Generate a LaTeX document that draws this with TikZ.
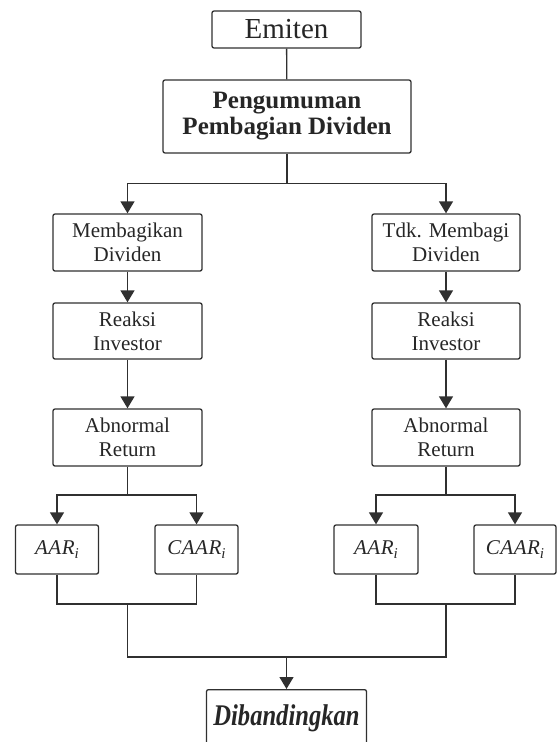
\documentclass[tikz,border=0pt]{standalone}
\usepackage{fontspec}
\setmainfont{Liberation Serif}
\usetikzlibrary{arrows.meta}
\definecolor{ln}{HTML}{303030}
\newcommand{\subi}{\raisebox{-4.5pt}{\fontsize{15}{15}\selectfont\textit{i}}}
\tikzset{
  box/.style={draw=ln, line width=1.3pt, rounded corners=2pt, align=center, inner sep=0pt, text=black!85},
  txt/.style={font=\fontsize{21}{24}\selectfont},
  conn/.style={draw=ln, line width=1.3pt},
  arr/.style={conn, -{Triangle[length=12pt,width=14pt]}}
}
\begin{document}
\begin{tikzpicture}[x=1pt,y=-1pt]
\useasboundingbox (0,0) rectangle (557,742);
\clip (0,0) rectangle (557,742);
\node[box, minimum width=149pt, minimum height=37pt, font=\fontsize{29}{32}\selectfont] (emit) at (286.5,29.5) {Emiten};
\node[box, minimum width=248pt, minimum height=73pt, font=\fontsize{25}{26}\selectfont\bfseries] (peng) at (287,116.5) {Pengumuman\\Pembagian Dividen};
\node[box, txt, minimum width=149pt, minimum height=57pt] (memb) at (127.5,242.5) {Membagikan\\Dividen};
\node[box, txt, minimum width=149pt, minimum height=56pt] (reaL) at (127.5,331) {Reaksi\\Investor};
\node[box, txt, minimum width=149pt, minimum height=57pt] (abnL) at (127.5,437.5) {Abnormal\\Return};
\node[box, txt, minimum width=148pt, minimum height=57pt] (tdk) at (446,242.5) {Tdk. Membagi\\Dividen};
\node[box, txt, minimum width=148pt, minimum height=56pt] (reaR) at (446,331) {Reaksi\\Investor};
\node[box, txt, minimum width=148pt, minimum height=57pt] (abnR) at (446,437.5) {Abnormal\\Return};
\node[box, txt, minimum width=83pt, minimum height=49pt] (aarL) at (57,549.5) {\textit{A\kern0.5pt A\kern0.5pt R}\subi};
\node[box, txt, minimum width=83pt, minimum height=49pt] (caarL) at (196.5,549.5) {\textit{C\kern0.5pt A\kern0.5pt A\kern0.5pt R}\subi};
\node[box, txt, minimum width=84pt, minimum height=49pt] (aarR) at (376,549.5) {\textit{A\kern0.5pt A\kern0.5pt R}\subi};
\node[box, txt, minimum width=82pt, minimum height=49pt] (caarR) at (515,549.5) {\textit{C\kern0.5pt A\kern0.5pt A\kern0.5pt R}\subi};
\node[box, minimum width=160pt, text height=36pt, text depth=30pt, anchor=north] (dib) at (286.5,689) {\scalebox{0.82}[1]{\fontsize{30}{32}\selectfont\bfseries\itshape Dibandingkan}};
\coordinate (split) at (287,183.5);
\coordinate (sL) at (127.5,495);
\coordinate (sR) at (446,495);
\coordinate (jL) at (127.5,604);
\coordinate (jR) at (446,604);
\coordinate (mid) at (286.5,657);
\draw[conn] (emit) -- (peng);
\draw[conn] (peng) -- (split);
\draw[arr] (split) -| (memb);
\draw[arr] (split) -| (tdk);
\draw[arr] (memb) -- (reaL);
\draw[arr] (reaL) -- (abnL);
\draw[arr] (tdk) -- (reaR);
\draw[arr] (reaR) -- (abnR);
\draw[conn] (abnL) -- (sL);
\draw[arr] (sL) -| (aarL);
\draw[arr] (sL) -| (caarL);
\draw[conn] (abnR) -- (sR);
\draw[arr] (sR) -| (aarR);
\draw[arr] (sR) -| (caarR);
\draw[conn] (aarL) |- (jL) -| (caarL);
\draw[conn] (aarR) |- (jR) -| (caarR);
\draw[conn] (jL) |- (mid) -| (jR);
\draw[arr] (mid) -- (dib);
\end{tikzpicture}
\end{document}
